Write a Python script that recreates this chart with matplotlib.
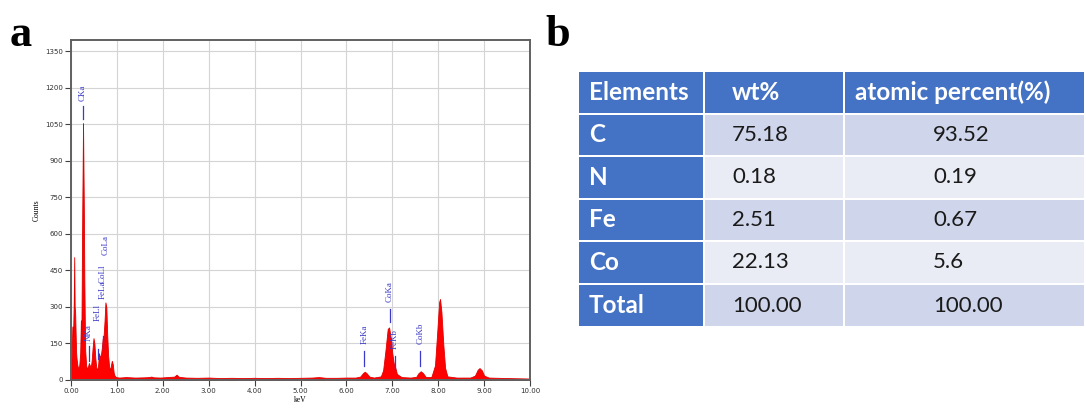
import numpy as np
import matplotlib
matplotlib.use('Agg')
from matplotlib import pyplot as plt
from matplotlib.patches import Rectangle

# EDS spectrum (keV, counts)
energy = [0.00, 0.02, 0.03, 0.045, 0.06, 0.07, 0.08, 0.09, 0.10, 0.11, 0.12, 0.14,
          0.16, 0.18, 0.20, 0.215, 0.225, 0.235, 0.245, 0.255, 0.262, 0.27, 0.28,
          0.29, 0.30, 0.31, 0.33, 0.35, 0.37, 0.39, 0.41, 0.43, 0.45, 0.47, 0.49,
          0.51, 0.53, 0.55, 0.57, 0.59, 0.61, 0.63, 0.65, 0.67, 0.69, 0.71, 0.73,
          0.75, 0.77, 0.79, 0.81, 0.83, 0.85, 0.87, 0.89, 0.91, 0.93, 0.95, 0.98,
          1.05, 1.20, 1.40, 1.60, 1.70, 1.75, 1.80, 1.95, 2.10, 2.25, 2.30, 2.35,
          2.50, 2.75, 3.00, 3.25, 3.50, 3.75, 4.00, 4.25, 4.50, 4.75, 5.00, 5.25,
          5.40, 5.55, 5.80, 6.00, 6.20, 6.30, 6.36, 6.40, 6.44, 6.50, 6.60, 6.75,
          6.80, 6.85, 6.90, 6.93, 6.97, 7.00, 7.03, 7.06, 7.10, 7.20, 7.40, 7.52,
          7.57, 7.62, 7.67, 7.73, 7.85, 7.93, 7.98, 8.02, 8.04, 8.07, 8.11, 8.15,
          8.20, 8.40, 8.70, 8.80, 8.86, 8.90, 8.95, 9.00, 9.10, 9.50, 10.00]
counts = [0, 150, 220, 180, 320, 505, 300, 280, 200, 120, 90, 60,
          45, 60, 110, 245, 150, 420, 690, 900, 1055, 900, 700,
          420, 250, 120, 60, 45, 55, 70, 60, 50, 80, 130, 172,
          150, 90, 52, 40, 60, 110, 95, 100, 130, 170, 180, 240,
          319, 300, 180, 100, 55, 40, 60, 79, 65, 30, 18, 12,
          10, 12, 10, 11, 12, 14, 11, 10, 12, 14, 22, 13,
          10, 9, 10, 8, 9, 8, 9, 8, 9, 8, 9, 10,
          12, 9, 9, 10, 10, 14, 28, 34, 28, 14, 10, 15,
          40, 120, 210, 216, 170, 110, 70, 55, 25, 12, 10, 13,
          28, 36, 28, 12, 12, 60, 200, 320, 333, 280, 150, 50,
          15, 10, 10, 18, 42, 49, 40, 18, 10, 8, 6]

# peak markers: (keV, line bottom, line top, text bottom, label)
peak_names = ['CKa', 'NKa', 'FeLl', 'FeLa', 'CoLl', 'CoLa', 'FeKa', 'CoKa', 'FeKb', 'CoKb']
peak_kev = [0.26, 0.385, 0.59, 0.70, 0.69, 0.75, 6.39, 6.94, 7.06, 7.61]
line_lo = [1072, 79, 88, 129, None, None, 59, 237, 46, 59]
line_hi = [1127, 140, 129, 182, None, None, 120, 293, 100, 120]
text_lo = [1148, 161, 244, 333, 400, 515, 149, 319, 129, 148]

# table of panel b
col_labels = ['Elements', 'wt%', 'atomic percent(%)']
elements = ['C', 'N', 'Fe', 'Co', 'Total']
wt = ['75.18', '0.18', '2.51', '22.13', '100.00']
atomic = ['93.52', '0.19', '0.67', '5.6', '100.00']

W, H = 1086, 416
fig = plt.figure(figsize=(W / 100, H / 100), dpi=100)

# ---- panel a: spectrum
ax = fig.add_axes([71 / W, 1 - 380 / H, (530 - 71) / W, (380 - 40) / H])
ax.fill_between(energy, counts, 0, color='#ff0000', lw=0.6, edgecolor='#e00000')
ax.set_xlim(0, 10)
ax.set_ylim(0, 1397)
ax.set_xticks(np.arange(0, 11, 1))
ax.set_xticklabels(['%.2f' % v for v in range(11)])
ax.set_yticks(np.arange(0, 1351, 150))
ax.grid(True, color='#d4d4d4', lw=0.8)
ax.set_axisbelow(True)
for s in ax.spines.values():
    s.set_color('#606060')
    s.set_linewidth(1.4)
ax.tick_params(labelsize=5, length=4.5, width=0.8, color='#404040',
               labelcolor='#303030', pad=1.5)
ax.set_xlabel('keV', fontsize=5.5, family='Liberation Serif', labelpad=1.5)
ax.set_ylabel('Counts', fontsize=5.5, family='Liberation Serif', labelpad=3)

blue = '#3a3ac8'
for i, name in enumerate(peak_names):
    if line_lo[i] is not None:
        ax.plot([peak_kev[i], peak_kev[i]], [line_lo[i], line_hi[i]], color=blue, lw=0.9)
    ax.text(peak_kev[i], text_lo[i], name, rotation=90, ha='center', va='bottom',
            fontsize=6.5, color=blue, family='Liberation Serif')

fig.text(10 / W, 1 - 46 / H, 'a', fontsize=32, fontweight='bold',
         family='Liberation Serif', ha='left', va='baseline')
fig.text(545 / W, 1 - 46 / H, 'b', fontsize=32, fontweight='bold',
         family='Liberation Serif', ha='left', va='baseline')

# ---- panel b: table
tb = fig.add_axes([0, 0, 1, 1])
tb.set_xlim(0, W)
tb.set_ylim(H, 0)
tb.axis('off')

col_x = [579, 705, 845, 1086]
row_y = [72, 114.5, 157, 199.5, 242, 285, 328]
text_x = [589, 732, 855]
gap = 2

blue_cell = '#4472c4'
rows = [[e, w_, a_] for e, w_, a_ in zip(elements, wt, atomic)]
for r in range(6):
    for c in range(3):
        x0, x1 = col_x[c], col_x[c + 1]
        y0, y1 = row_y[r], row_y[r + 1]
        if r == 0 or c == 0:
            fc = blue_cell
        elif r % 2 == 1:
            fc = '#cfd5ea'
        else:
            fc = '#e9ebf5'
        tb.add_patch(Rectangle((x0, y0), x1 - x0 - gap, y1 - y0 - gap, fc=fc, ec='none'))
        if r == 0:
            txt, color, weight, fs = col_labels[c], 'white', 'bold', 17.5
        else:
            txt = rows[r - 1][c]
            if c == 0:
                color, weight, fs = 'white', 'bold', 17.5
            else:
                color, weight, fs = '#1a1a1a', 'normal', 16
        tx = text_x[c] if not (r > 0 and c == 2) else 933
        tb.text(tx, (y0 + y1 - gap) / 2, txt, ha='left', va='center',
                fontsize=fs, color=color, fontweight=weight, family='Lato')

fig.savefig('out.png', dpi=100)
